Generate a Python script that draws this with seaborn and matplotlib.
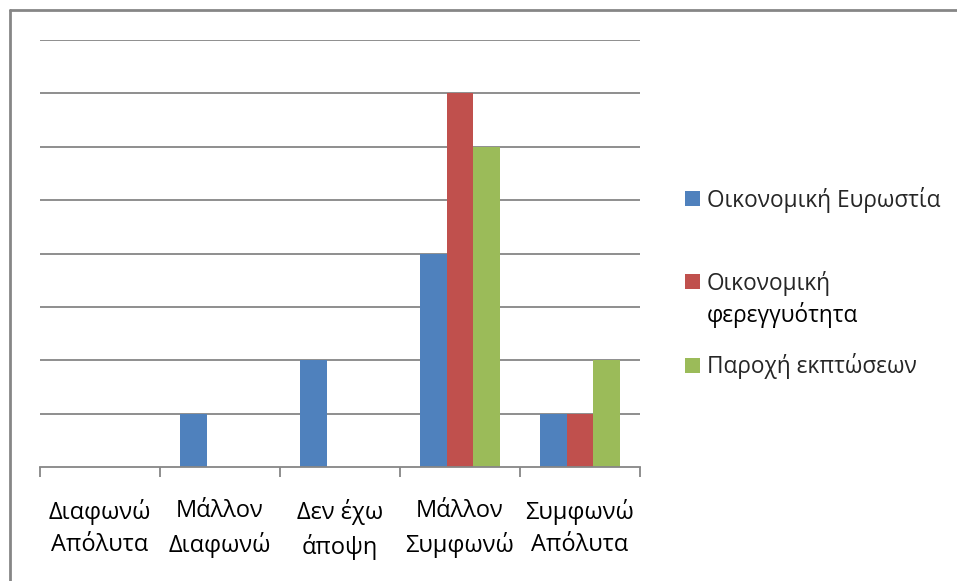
import matplotlib
matplotlib.use("Agg")
import matplotlib.pyplot as plt
from matplotlib.lines import Line2D
from matplotlib.patches import Patch
from matplotlib.text import Annotation
import pandas as pd
import seaborn as sns

categories = ["Διαφωνώ\nΑπόλυτα", "Μάλλον\nΔιαφωνώ", "Δεν έχω\nάποψη",
              "Μάλλον\nΣυμφωνώ", "Συμφωνώ\nΑπόλυτα"]
series_names = ["Οικονομική Ευρωστία", "Οικονομική φερεγγυότητα", "Παροχή εκπτώσεων"]
eurostia = [0, 1, 2, 4, 1]
fereggyotita = [0, 0, 0, 7, 1]
ekptoseis = [0, 0, 0, 6, 2]
colors = ["#4F81BD", "#C0504D", "#9BBB59"]

rows = []
for name, vals in zip(series_names, [eurostia, fereggyotita, ekptoseis]):
    for cat, v in zip(categories, vals):
        rows.append({"cat": cat, "series": name, "value": v})
df = pd.DataFrame(rows)

sns.set_theme(style="white")
plt.rcParams["font.family"] = ["Open Sans", "DejaVu Sans"]

W, H = 957, 581
FS_TICK = 17
FS_LEG = 16.3
fig = plt.figure(figsize=(W / 100, H / 100), dpi=100)
ax = fig.add_axes([40 / W, (H - 467) / H, 600 / W, (467 - 40) / H])

sns.barplot(data=df, x="cat", y="value", hue="series", order=categories,
            hue_order=series_names, palette=colors, width=0.667, gap=0,
            saturation=1, linewidth=0, ax=ax, legend=False)

ax.set_xlim(-0.5, 4.5)
ax.set_ylim(0, 8)
ax.set_yticks(range(1, 9))
ax.yaxis.grid(True, color="#868686", linewidth=1.3)
ax.set_axisbelow(True)
ax.tick_params(axis="y", left=False, labelleft=False)
ax.set_xlabel("")
ax.set_ylabel("")
for s in ["top", "right", "left"]:
    ax.spines[s].set_visible(False)
ax.spines["bottom"].set_color("#868686")
ax.spines["bottom"].set_linewidth(1.3)

ax.set_xticks(range(5))
ax.set_xticklabels(categories, fontsize=FS_TICK, color="#000000", linespacing=1.45)
ax.set_xticks([i - 0.5 for i in range(6)], minor=True)
ax.tick_params(axis="x", which="major", length=0, pad=23)
ax.tick_params(axis="x", which="minor", length=7, width=1.3, color="#868686",
               direction="out", bottom=True)

# legend: the long second label wraps onto a second line
legend_labels = ["Οικονομική Ευρωστία", "Οικονομική", "Παροχή εκπτώσεων"]
handles = [Patch(facecolor=c, edgecolor="none") for c in colors]
leg = fig.legend(handles, legend_labels, loc="center left",
                 bbox_to_anchor=(665 / W, 1 - 283 / H), frameon=False,
                 fontsize=FS_LEG, handlelength=0.64, handleheight=0.64,
                 handletextpad=0.3, labelspacing=2.55)
leg.set_zorder(5)
wrap = Annotation("φερεγγυότητα", xy=(0, 0.5), xycoords=leg.get_texts()[1],
                  xytext=(0, -32), textcoords="offset pixels", ha="left",
                  va="center", fontsize=FS_LEG, color="#000000")
wrap.set_zorder(10)
fig.add_artist(wrap)

# chart frame (top and left edges)
fig.add_artist(Line2D([10 / W, 1], [1 - 10 / H, 1 - 10 / H], color="#868686",
                      linewidth=2, transform=fig.transFigure))
fig.add_artist(Line2D([10 / W, 10 / W], [1 - 10 / H, 0], color="#868686",
                      linewidth=2, transform=fig.transFigure))

fig.savefig("out.png", dpi=100)
